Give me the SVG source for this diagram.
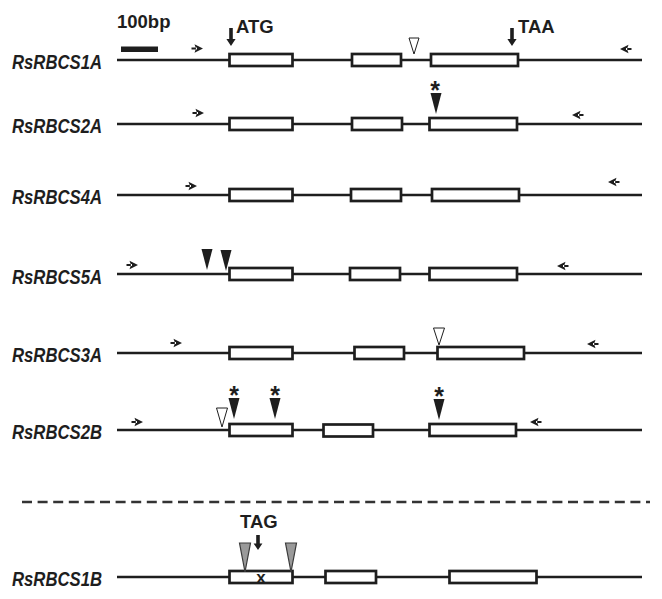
<svg xmlns="http://www.w3.org/2000/svg" xmlns:xlink="http://www.w3.org/1999/xlink" width="662" height="599" viewBox="0 0 662 599">
<style>
.bg{fill:#ffffff}
.ln{stroke:#1e1e1e;stroke-width:2.4;fill:none}
.ex{fill:#ffffff;stroke:#1e1e1e;stroke-width:2.7}
.lab{font-family:"Liberation Sans",Arial,sans-serif;font-weight:bold;font-style:italic;font-size:20.5px;fill:#1e1e1e}
.bt{font-family:"Liberation Sans",Arial,sans-serif;font-weight:bold;font-size:18.5px;fill:#1e1e1e}
.ast{font-family:"Liberation Sans",Arial,sans-serif;font-weight:bold;font-size:25px;fill:#1e1e1e;text-anchor:middle}
.blk{fill:#1e1e1e}
.open{fill:#ffffff;stroke:#1e1e1e;stroke-width:1}
.gray{fill:#9a9a9a;stroke:#3a3a3a;stroke-width:1.2}
.dash{stroke:#333;stroke-width:2.4;stroke-dasharray:10 5.6;fill:none}
</style>
<defs>
<path id="fwd" class="blk" d="M-11.5,-1 H-6 V1 H-11.5 Z M0,0 L-8.5,-4.3 L-7,0 L-8.5,4.3 Z"/>
<path id="rev" class="blk" d="M11.5,-1 H6 V1 H11.5 Z M0,0 L8.5,-4.3 L7,0 L8.5,4.3 Z"/>
<path id="down" class="blk" d="M-1.8,-18 H1.8 V-7 H4.6 L0,0 L-4.6,-7 H-1.8 Z"/>
<path id="downs" class="blk" d="M-1.8,-15 H1.8 V-6.5 H4.4 L0,0 L-4.4,-6.5 H-1.8 Z"/>
<path id="tri" class="blk" d="M-5.5,-21 H5.5 L0,0 Z"/>
</defs>
<rect class="bg" x="0" y="0" width="662" height="599"/>

<g id="scale">
<rect class="blk" x="121" y="46.5" width="37" height="5.5"/>
<text class="bt" x="117" y="28">100bp</text>
</g>

<g id="RsRBCS1A">
<text class="lab" x="12" y="69" textLength="90" lengthAdjust="spacingAndGlyphs">RsRBCS1A</text>
<line class="ln" x1="117" y1="60" x2="642" y2="60"/>
<rect class="ex" x="229.5" y="54" width="63" height="12"/>
<rect class="ex" x="352" y="54" width="49" height="12"/>
<rect class="ex" x="431" y="54" width="87" height="12"/>
<use xlink:href="#fwd" x="203" y="48.5"/>
<use xlink:href="#rev" x="620" y="49"/>
<use xlink:href="#down" x="231" y="46"/>
<text class="bt" x="236" y="33">ATG</text>
<use xlink:href="#down" x="512" y="46"/>
<text class="bt" x="518" y="33">TAA</text>
<path class="open" d="M409,38 H419 L414,54 Z"/>
</g>

<g id="RsRBCS2A">
<text class="lab" x="12" y="133" textLength="90" lengthAdjust="spacingAndGlyphs">RsRBCS2A</text>
<line class="ln" x1="117" y1="124" x2="642" y2="124"/>
<rect class="ex" x="229.5" y="118" width="63" height="12"/>
<rect class="ex" x="352" y="118" width="50" height="12"/>
<rect class="ex" x="429.5" y="118" width="87.5" height="12"/>
<use xlink:href="#fwd" x="204" y="113"/>
<use xlink:href="#rev" x="572" y="115"/>
<use xlink:href="#tri" x="436" y="114"/>
<text class="ast" x="435" y="99">*</text>
</g>

<g id="RsRBCS4A">
<text class="lab" x="12" y="204" textLength="90" lengthAdjust="spacingAndGlyphs">RsRBCS4A</text>
<line class="ln" x1="117" y1="195" x2="642" y2="195"/>
<rect class="ex" x="229.5" y="189" width="63" height="12"/>
<rect class="ex" x="351" y="189" width="50" height="12"/>
<rect class="ex" x="432" y="189" width="87" height="12"/>
<use xlink:href="#fwd" x="197" y="186"/>
<use xlink:href="#rev" x="608" y="182"/>
</g>

<g id="RsRBCS5A">
<text class="lab" x="12" y="284" textLength="90" lengthAdjust="spacingAndGlyphs">RsRBCS5A</text>
<line class="ln" x1="117" y1="274" x2="642" y2="274"/>
<rect class="ex" x="229.5" y="268" width="63" height="12"/>
<rect class="ex" x="350" y="268" width="50" height="12"/>
<rect class="ex" x="429.5" y="268" width="87.5" height="12"/>
<use xlink:href="#fwd" x="138" y="265"/>
<use xlink:href="#rev" x="557" y="266"/>
<use xlink:href="#tri" x="207" y="270"/>
<use xlink:href="#tri" x="226" y="271"/>
</g>

<g id="RsRBCS3A">
<text class="lab" x="12" y="362" textLength="90" lengthAdjust="spacingAndGlyphs">RsRBCS3A</text>
<line class="ln" x1="117" y1="353" x2="642" y2="353"/>
<rect class="ex" x="229.5" y="347" width="63" height="12"/>
<rect class="ex" x="354.5" y="347" width="49.5" height="12"/>
<rect class="ex" x="437.5" y="347" width="86.5" height="12"/>
<use xlink:href="#fwd" x="182" y="343"/>
<use xlink:href="#rev" x="587" y="344"/>
<path class="open" d="M433.5,328 H444.5 L439,345 Z"/>
</g>

<g id="RsRBCS2B">
<text class="lab" x="12" y="439" textLength="90" lengthAdjust="spacingAndGlyphs">RsRBCS2B</text>
<line class="ln" x1="117" y1="430" x2="642" y2="430"/>
<rect class="ex" x="229.5" y="424" width="63" height="12"/>
<rect class="ex" x="323.5" y="424.5" width="49.5" height="12"/>
<rect class="ex" x="429.5" y="424" width="86.5" height="12"/>
<use xlink:href="#fwd" x="143" y="422"/>
<use xlink:href="#rev" x="530" y="422"/>
<path class="open" d="M216.5,408 H227.5 L222,427 Z"/>
<use xlink:href="#tri" x="234" y="419"/>
<use xlink:href="#tri" x="275" y="419"/>
<use xlink:href="#tri" x="439" y="420"/>
<text class="ast" x="234" y="404">*</text>
<text class="ast" x="275" y="404">*</text>
<text class="ast" x="439" y="405">*</text>
</g>

<g id="separator">
<line class="dash" x1="22" y1="502" x2="650" y2="502"/>
</g>

<g id="RsRBCS1B">
<text class="lab" x="12" y="586" textLength="90" lengthAdjust="spacingAndGlyphs">RsRBCS1B</text>
<line class="ln" x1="117" y1="577" x2="642" y2="577"/>
<rect class="ex" x="229.5" y="571" width="63" height="12"/>
<rect class="ex" x="325.5" y="571" width="50.5" height="12"/>
<rect class="ex" x="449.5" y="571" width="87" height="12"/>
<text x="261" y="582.5" text-anchor="middle" style="font-family:'Liberation Sans',Arial,sans-serif;font-weight:bold;font-size:17px;fill:#1e1e1e">x</text>
<path class="gray" d="M239.5,543 H250.5 L245,572 Z"/>
<path class="gray" d="M285.5,543 H296.5 L291,572 Z"/>
<use xlink:href="#downs" x="258" y="550"/>
<text class="bt" x="240" y="528">TAG</text>
</g>
</svg>
